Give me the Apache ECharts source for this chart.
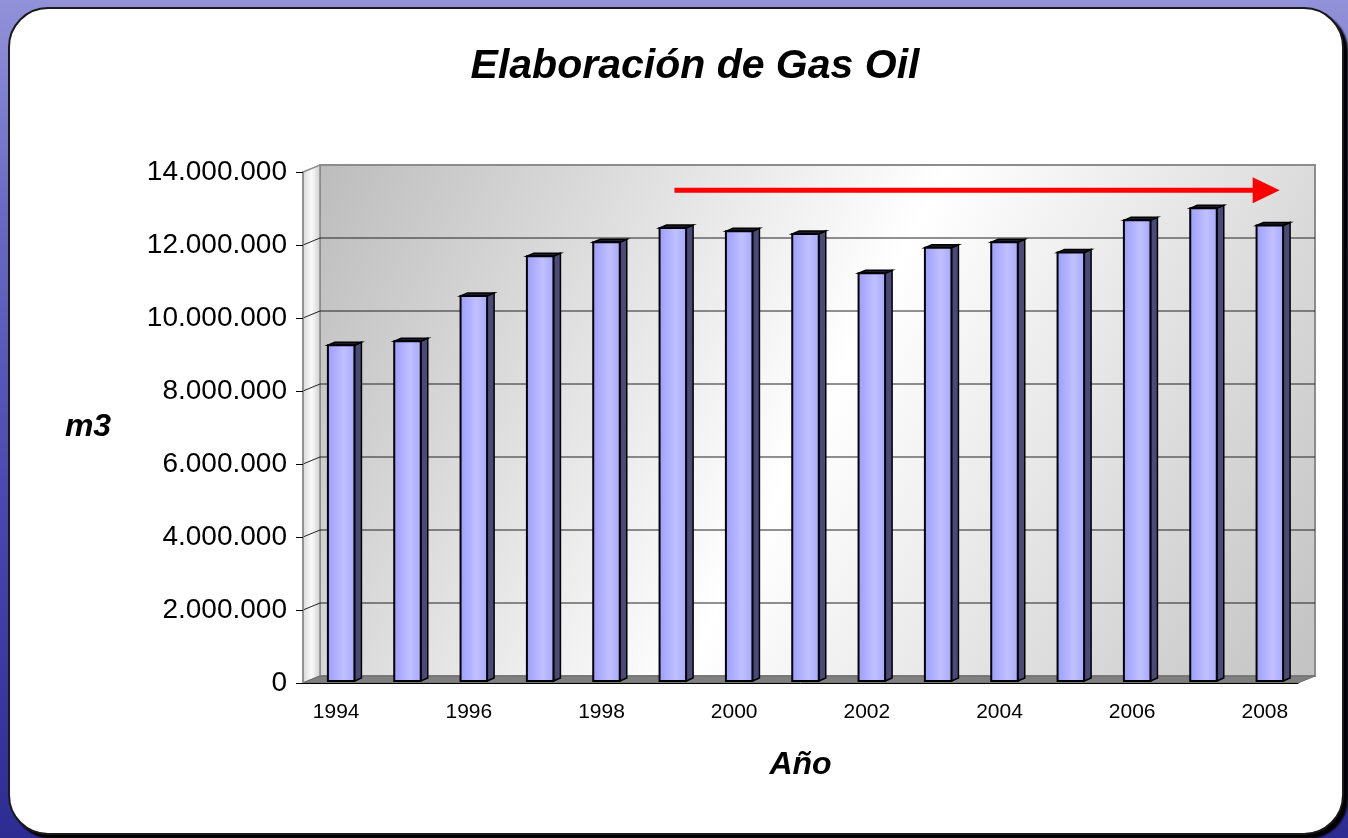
<!DOCTYPE html>
<html>
<head>
<meta charset="utf-8">
<title>Elaboración de Gas Oil</title>
<script src="https://cdn.jsdelivr.net/npm/echarts@6/dist/echarts.min.js"></script>
<style>
html, body { margin: 0; padding: 0; }
body {
    width: 1348px; height: 838px; overflow: hidden; position: relative;
    background: linear-gradient(to bottom, #9292da 0%, #6a6ac4 25%, #4848b0 60%, #2c2c92 100%);
}
#panel {
    position: absolute; left: 8px; top: 7px; width: 1332px; height: 824px;
    background: #fff; border: 2px solid #1a1a1a; border-radius: 40px;
    box-shadow: 4px 4px 2px #000;
}
#chart { position: absolute; left: 0; top: 0; width: 1348px; height: 838px; }
</style>
</head>
<body>
<div id="panel"></div>
<div id="chart"></div>
<script>
var years = ['1994', '1995', '1996', '1997', '1998', '1999', '2000', '2001',
             '2002', '2003', '2004', '2005', '2006', '2007', '2008'];
var volumes = [9200000, 9310000, 10550000, 11640000, 12020000, 12410000, 12320000, 12250000,
               11170000, 11870000, 12020000, 11740000, 12620000, 12950000, 12480000];
var yTicks = [0, 2000000, 4000000, 6000000, 8000000, 10000000, 12000000, 14000000];
// red trend arrow, in band units along the year axis
var arrowX = [5.1, 14.02];
var arrowLevel = 13500000;

var FONT = 'Liberation Sans, Arial, sans-serif';
var DEPTH = [17, -7];      // pseudo 3d offset of the back wall
var BAR_SHIFT = [5, -2];   // bars stand a bit behind the front plane
var BAR_SIDE = [7, -3];

function dots(v) {
    return String(v).replace(/\B(?=(\d{3})+(?!\d))/g, '.');
}

function renderWalls(params, api) {
    var cs = params.coordSys;
    var x0 = cs.x, y0 = cs.y, x1 = cs.x + cs.width, y1 = cs.y + cs.height;
    var dx = DEPTH[0], dy = DEPTH[1];
    var kids = [];
    kids.push({
        type: 'rect',
        shape: { x: x0 + dx, y: y0 + dy, width: cs.width, height: cs.height },
        style: {
            fill: new echarts.graphic.LinearGradient(0, 0, 1, 1, [
                { offset: 0, color: '#bcbcbc' },
                { offset: 0.5, color: '#ffffff' },
                { offset: 1, color: '#c2c2c2' }
            ]),
            stroke: '#8c8c8c', lineWidth: 2
        }
    });
    kids.push({
        type: 'polygon',
        shape: { points: [[x0, y0], [x0 + dx, y0 + dy], [x0 + dx, y1 + dy], [x0, y1]] },
        style: {
            fill: new echarts.graphic.LinearGradient(0, 0, 1, 0, [
                { offset: 0, color: '#d6d6d6' },
                { offset: 0.5, color: '#fbfbfb' },
                { offset: 1, color: '#cccccc' }
            ]),
            stroke: '#8c8c8c', lineWidth: 1.5
        }
    });
    kids.push({
        type: 'polygon',
        shape: { points: [[x0, y1], [x0 + dx, y1 + dy], [x1 + dx, y1 + dy], [x1, y1]] },
        style: { fill: '#808080', stroke: '#6a6a6a', lineWidth: 1 }
    });
    for (var i = 1; i < yTicks.length - 1; i++) {
        var y = api.coord([0, yTicks[i]])[1];
        kids.push({
            type: 'polyline',
            shape: { points: [[x0, y], [x0 + dx, y + dy], [x1 + dx, y + dy]] },
            style: { fill: null, stroke: '#222222', lineWidth: 1 }
        });
    }
    return { type: 'group', children: kids };
}

function renderBar(params, api) {
    var idx = api.value(0);
    var top = api.coord([idx, api.value(1)]);
    var base = api.coord([idx, 0]);
    var w = api.size([1, 0])[0] * 0.4;
    var xl = top[0] - w / 2 + BAR_SHIFT[0], xr = xl + w;
    var yt = top[1] + BAR_SHIFT[1], yb = base[1] + BAR_SHIFT[1];
    var sx = BAR_SIDE[0], sy = BAR_SIDE[1];
    return {
        type: 'group',
        children: [{
            type: 'polygon',
            shape: { points: [[xr, yt], [xr + sx, yt + sy], [xr + sx, yb + sy], [xr, yb]] },
            style: { fill: '#4a4a78', stroke: '#000', lineWidth: 1.5 }
        }, {
            type: 'polygon',
            shape: { points: [[xl, yt], [xl + sx, yt + sy], [xr + sx, yt + sy], [xr, yt]] },
            style: { fill: '#1c1c2c', stroke: '#000', lineWidth: 1.5 }
        }, {
            type: 'rect',
            shape: { x: xl, y: yt, width: w, height: yb - yt },
            style: {
                fill: new echarts.graphic.LinearGradient(0, 0, 1, 0, [
                    { offset: 0, color: '#9c9cff' },
                    { offset: 0.6, color: '#c0c0ff' },
                    { offset: 1, color: '#a6a6ff' }
                ]),
                stroke: '#000', lineWidth: 2
            }
        }]
    };
}

var chart = echarts.init(document.getElementById('chart'), null, { renderer: 'canvas' });
chart.setOption({
    animation: false,
    backgroundColor: 'transparent',
    title: {
        text: 'Elaboración de Gas Oil',
        left: 690, top: 41, textAlign: 'center',
        textStyle: { fontFamily: FONT, fontSize: 41, fontWeight: 'bold', fontStyle: 'italic', color: '#000' }
    },
    grid: { left: 303, right: 50, top: 172, bottom: 155 },
    xAxis: [{
        type: 'category',
        data: years,
        z: 10,
        name: 'Año',
        nameLocation: 'middle',
        nameGap: 82,
        nameTextStyle: { fontFamily: FONT, fontSize: 32, fontWeight: 'bold', fontStyle: 'italic', color: '#000', verticalAlign: 'middle' },
        axisLine: { lineStyle: { color: '#000', width: 1 } },
        axisTick: { length: 8, lineStyle: { color: '#000' } },
        axisLabel: { interval: 1, margin: 19, fontFamily: FONT, fontSize: 21, color: '#000' },
        splitLine: { show: false }
    }, {
        type: 'value', min: -0.5, max: 14.5, show: false
    }],
    yAxis: {
        type: 'value',
        min: 0, max: 14000000, interval: 2000000,
        z: 10,
        name: 'm3',
        nameLocation: 'middle',
        nameRotate: 0,
        nameGap: 215,
        nameTextStyle: { fontFamily: FONT, fontSize: 32, fontWeight: 'bold', fontStyle: 'italic', color: '#000', align: 'center', verticalAlign: 'middle' },
        axisLine: { show: true, onZero: false, lineStyle: { color: '#8c8c8c', width: 1.5 } },
        axisTick: { show: true, length: 7, lineStyle: { color: '#000' } },
        axisLabel: { margin: 16, fontFamily: FONT, fontSize: 28, color: '#000', formatter: dots },
        splitLine: { show: false }
    },
    series: [{
        type: 'custom',
        name: 'walls',
        silent: true,
        z: 1,
        renderItem: renderWalls,
        data: [[0, 0]]
    }, {
        type: 'custom',
        name: 'm3',
        z: 3,
        renderItem: renderBar,
        encode: { x: 0, y: 1 },
        data: years.map(function (y, i) { return [y, volumes[i]]; })
    }, {
        type: 'line',
        xAxisIndex: 1,
        z: 5,
        symbol: 'triangle',
        symbolSize: [26, 27],
        symbolRotate: -90,
        lineStyle: { color: '#ff0000', width: 5 },
        itemStyle: { color: '#ff0000' },
        data: [{ value: [arrowX[0], arrowLevel], symbol: 'none' }, [arrowX[1], arrowLevel]]
    }]
});
</script>
</body>
</html>
